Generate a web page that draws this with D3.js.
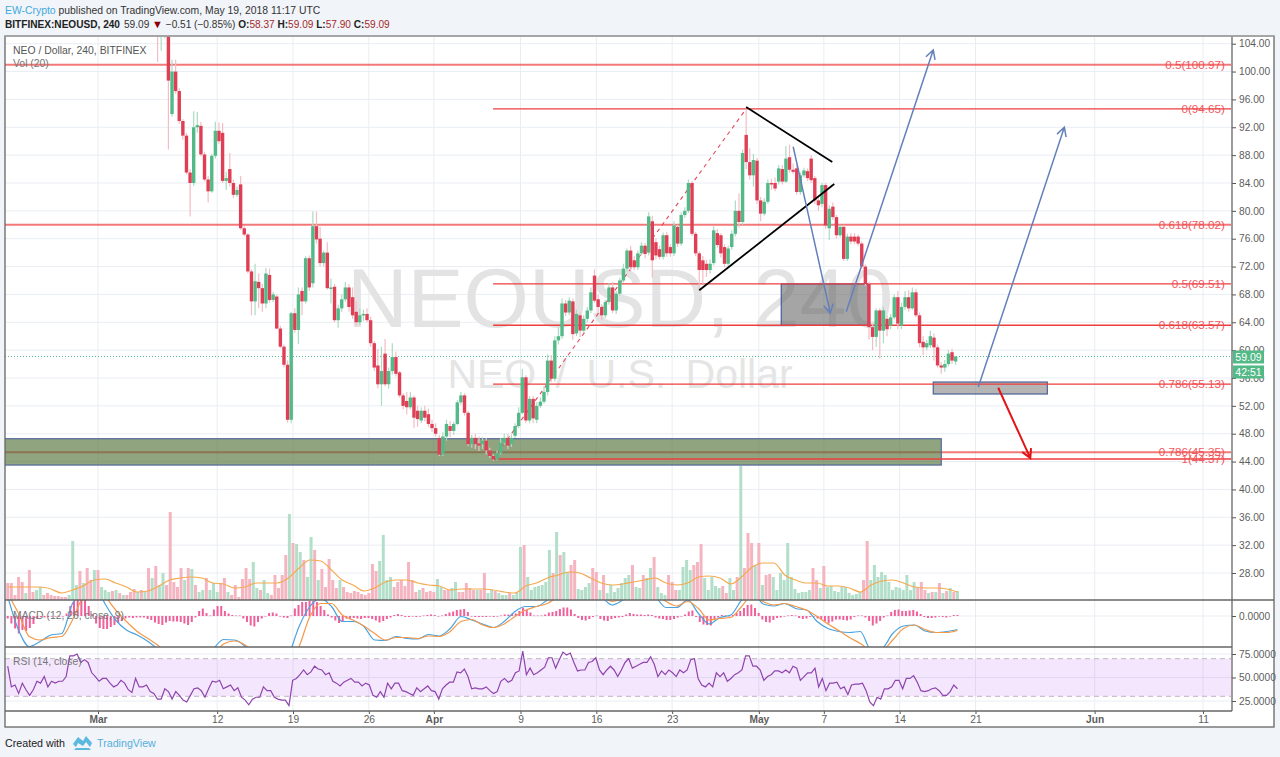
<!DOCTYPE html>
<html lang="en">
<head>
  <meta charset="UTF-8">
  <title>NEOUSD, 240</title>
  <script src="https://d3js.org/d3.v7.min.js"></script>
  <style>
    body { margin: 0; background: #f1f4f9; font-family: "Liberation Sans", Arial, sans-serif; }
    svg { display: block; }
    .axis text { font-size: 10.2px; fill: #5d5d5d; font-family: "Liberation Sans", Arial, sans-serif; }
    .axis line { stroke: #555; }
    .axis path { display: none; }
    .pane-label { font-size: 10.4px; fill: #777; }
    .fib-label { font-size: 11.7px; fill: #f0484e; opacity: 0.9; text-anchor: end; }
  </style>
</head>
<body>
  <svg id="chart" width="1280" height="757"></svg>

  <script>
    // 8h candles, starting 2018-03-06 12:00 (earlier ones are above the visible range)
    const opens = [
      106,105.3,105.6,106.5,93.9,100,97.2,92.9,90.8,85.5,
      84,92,92.2,88.1,84.5,82.8,87.9,91.5,91.2,84.3,
      86,84,82.3,83.8,77.5,76.6,71.3,67,69.8,68.9,
      66.7,70.8,67.2,67.7,63.1,60.5,57.9,50,65.3,62.9,
      68.5,67,73.2,69.6,77.8,76,72.5,74,68.9,69.1,
      64.3,66,67.3,69,67.6,65.5,64,65,65.2,64.3,
      61,57.8,55.1,59.5,55.1,57,59,56.8,53.5,52.7,
      51.8,53.2,51.3,49.9,51.3,50.8,49.4,48.8,47.4,45,
      47.6,49.1,48.4,49.4,52.5,53.5,51,46.5,47.4,46.6,
      46.5,47,45.6,44.8,44.3,45.2,46.7,47.4,46.5,47.7,
      49.1,51,56.1,49.9,53,50,52,52.6,54,58.5,
      55.9,61.4,62,66.7,65.4,67,62.4,65,62.8,64.5,
      65.7,70.7,67.3,66.2,65,66.9,69,65.7,68.1,70,
      71.7,74.3,72.9,71.9,73.9,75,74,78.5,75.5,74.5,
      73.4,76.5,74.8,73.9,77.7,75.3,79.4,80,84,76.7,
      73.9,72.9,72.4,71.5,72.5,76.8,76.5,74.8,72.4,74.8,
      76.7,80,78.4,90.9,87,85.1,87.2,81.5,79.6,81.3,
      84,84,84.2,86,84.2,87.7,85.9,86.1,82.7,85.1,
      85.7,87.5,84.7,81.5,81,83.7,77.5,80.6,79.1,76.5,
      77.7,73.1,76.3,76.3,76.3,75.3,72,69.5,63.3,61.9,
      65.7,62.8,64.5,63.5,64.7,67.6,63.5,66.2,67.6,66,
      68.3,65,61.2,60.4,60.7,61.8,60.4,57.8,57.5,58,59.7,58.37
    ];
    const closes = [
      105.4,106,106.2,98.7,100,97.2,92.9,90.8,85.5,84,
      92,92.3,88.1,84.5,82.8,87.9,91.5,90,84.3,84.7,
      84,82.3,83,77.5,76.6,71.3,67,69.9,68.9,66.7,
      71,67.2,68,63.1,60.5,57.9,50,65.3,62.9,68,
      67,73.2,69,77.8,75.9,72.5,74,68.9,69,64.3,
      66,67.3,69,66.2,65,64,65,65.2,64.3,61,
      57.5,55.1,57,55.1,57,59,56.6,53.5,52,51.8,
      53.2,50.3,50.1,51.3,50.3,49.4,48.8,48,45,47.6,
      49.4,48.4,49.4,52.5,53.5,51,46.5,47.4,46.5,46.3,
      47,45.6,44.8,44.3,45.2,46.7,47.4,46.3,47.4,49.1,
      51,56.1,49.9,53,50.2,52,52.6,54,58.5,55.9,
      61.4,62,66.7,65.4,67.1,62.3,65.2,62.8,64.5,65.7,
      68.3,67.1,66.2,65,66.9,69,65.7,68.1,70,71.7,
      74.3,71.9,71.9,73.9,75,73.8,79.2,72.9,73.6,73.4,
      76.5,73.9,73.9,77.9,75.3,79.4,80,84,76.7,73.9,
      71.5,71.5,71.5,72.4,77.2,75.1,73.9,72.4,74.6,76.7,
      80,78.4,88.3,87,85.1,87.3,81.5,79.6,81.3,84,
      83.8,83.2,86.1,84.2,87.5,85.9,85.6,82.7,85.1,85.8,
      84.7,84.4,81.5,80.8,83.7,77.9,80.3,79.1,76.5,77.7,
      73.1,76.3,75.6,75.6,75.3,72,69.5,63.3,61.9,65.7,
      62.8,65.7,63,64.7,67.6,63.8,66.2,67.6,66,68.3,
      65,61,60.4,61,62,60.4,57.8,57.5,58,59.5,58.5,59.09
    ];
    const highs = [
      107.5,107.5,107,107,101.7,101.7,97.6,93.2,91.2,86,
      94.3,94.2,92.8,88.5,85,88.2,92.8,92.7,92.6,85.6,
      88.3,84.5,83.5,85,77.8,76.8,71.6,72.4,71,69.5,
      71.8,71.7,68.4,68,63.5,60.8,58.5,65.5,66,69,
      69,73.5,73.6,79.9,79.9,77.7,74.3,75.5,70.3,69.5,
      66.5,68,69.8,69.5,69,67,66,65.8,66,64.8,
      61.3,60.2,60.5,61.6,57.5,61,59.8,57,53.8,54,
      54,53.5,52,51.8,52,51.6,50,49.5,47.8,48.2,
      50,49.8,49.7,52.8,54,53.8,51.3,47.8,48,47.6,
      47.5,47.4,46,45,45.6,47.4,48,48,47.9,49.5,
      51.8,57.3,56.4,53.4,53.4,52.5,53.2,54.8,59.4,59.3,
      62,63.3,67.4,67.2,67.6,67.4,65.8,65.4,65,66.2,
      69,71.6,68,66.6,67.2,69.6,69.8,68.5,70.4,72.4,
      74.6,75,73.5,74.3,75.5,75.4,79.8,79.3,76,75,
      76.9,77,75.2,78.5,78,79.8,80.5,84.5,84.3,77,
      74.2,73.5,73,73,77.8,77.4,76.8,75.2,75,77.2,
      81.5,82.5,88.8,94.6,89,88.2,87.6,82,81.8,84.5,
      84.6,84.8,86.6,86.6,89.3,89.5,86.8,86.6,85.5,86.2,
      86.1,88,85,82,84,84,80.8,81.2,79.4,78,
      78,76.7,76.8,76.8,76.6,75.6,72.3,69.8,63.8,66,
      66,66.2,65,65.2,68,68.5,66.8,68.5,68.6,69,
      68.8,65.4,62,61.5,62.8,62.4,60.8,58.3,58.6,60,60.2,59.09
    ];
    const lows = [
      101.4,103,104.8,88.8,93.5,96.8,92.5,90.2,85.2,79.2,
      83.6,91.2,87.8,84.2,81.2,82.6,87.5,89.6,84,83,
      83.5,81.8,82,77.3,76.4,71,65,65,66,65.5,
      66,66.8,66.9,63,60.3,57.5,49.6,49.5,62.5,60.9,
      65,66.7,68.5,69,75.3,72,72,68.7,66.7,64,
      63.2,65.5,67,65.5,64.5,63.5,63.6,64.2,64,60.5,
      57,54.5,52,54.8,54.5,56.5,56.2,53.2,51.5,50.8,
      51.5,48.8,49,49.5,49.8,49,48.2,47.6,44.8,44.8,
      47,47.5,47.8,49.2,52.2,50.6,46.2,46,45.8,45.5,
      45.8,45,44.5,44.1,44.2,45,46.4,45.8,46.1,47.4,
      48.8,50.8,49.5,49.5,49.5,49.5,51.7,52.3,53.5,55.4,
      55.5,60.8,61.6,64.9,65,61.5,62,61.9,62.5,64,
      65.3,66.8,65.4,64.3,64.6,66.5,65.3,65.2,67.8,69.7,
      71.3,71.3,71.5,71.5,73.6,73.2,73.6,70.4,73,73,
      73,73.4,73.4,73.5,74.8,75,79,79.7,76.4,73.5,
      68.5,69.5,70.5,71,72.2,74.7,73.3,71.9,72,74.4,
      76.3,77.6,78,86,84.5,83.5,81,78.5,79.3,81,
      83,82.8,83.8,83.8,84,85.5,85.3,82.3,82.3,84.8,
      84.3,84,81,80,80.5,77.4,75.8,78.7,76,76.2,
      72.8,72.8,75.2,75.2,75,71.7,69.2,61.5,60,60.5,
      58.8,61,62,63,64.4,63,63,65.8,65.5,65.8,
      64.7,60.4,59.3,60,60.3,58.5,57.5,56.6,56.9,57.7,58,57.9
    ];

    // volume, negative = down bar
    const volumes = [
      -17,-17,-5,-23,-18,7,-30,-8,10,13,
      -5,-7,-5,-4,-4,-3,-3,5,59,15,
      -29,17,-32,-20,30,-30,13,10,8,-9,
      10,-7,5,-5,-8,-11,8,-10,8,-32,
      22,-34,15,27,-15,-88,-18,-13,-32,20,
      -32,31,-15,8,10,-22,10,17,8,-17,
      -22,8,-5,-15,-3,-21,-32,-21,38,12,
      -10,20,7,-5,-25,-12,-25,-45,86,-57,
      56,48,-40,23,63,-50,20,-31,-13,-41,
      -20,-12,20,-13,-8,-7,-9,-8,-6,-5,
      -7,-36,-29,39,65,20,23,-13,-18,-20,
      -14,-38,-20,-8,10,-12,-8,-9,-8,21,
      13,-10,-10,12,18,-8,-8,-17,-12,-10,
      10,-10,-27,7,10,-9,7,5,5,-7,5,
      7,53,-55,23,10,13,14,15,18,50,
      -27,68,-45,48,28,-35,-40,11,10,13,
      17,-32,-28,10,-25,7,15,8,12,17,
      22,25,-35,13,12,-25,22,32,-43,13,
      7,5,-25,-18,-10,10,33,40,30,-35,
      -38,-56,22,10,23,14,12,-14,-7,22,
      10,-23,134,-32,-67,-57,35,-57,15,-25,
      -26,23,10,27,20,57,23,11,7,8,
      8,10,-32,-20,12,-34,13,14,9,8,
      13,13,7,5,6,8,-20,-59,20,35,
      23,28,25,18,10,13,12,10,25,10,
      18,-12,-18,-10,7,-8,8,-17,7,-9,
      12,-8,9
    ];
    // daily samples of the Vol (20) average
    const volumeMa = [
      13,13,13,13,11,7,10,14,20,21,17,13,8,9,14,20,22,23,22,17,16,12,13,17,17,17,22,32,40,39,
      30,20,15,9,12,18,20,20,17,15,14,10,11,11,11,10,8,7,14,17,22,25,28,27,22,17,15,16,18,20,
      22,17,15,17,23,24,22,16,23,33,37,37,25,20,17,17,14,14,12,8,15,19,20,17,13,12,12,11,8
    ];

    const macdLine = [
      3.9,-2.8,-6.1,-5.1,-3.8,-3.5,2.5,4.5,6.5,2.5,-0.8,-2.8,-3.8,-5.1,-6.8,-8.8,-10.1,-10.8,-10.1,-6.8,
      -4.7,-4.8,-6.1,-8.8,-10.8,-12.1,-8.1,-2.1,1.9,3.5,1.9,-1.1,-1.1,-2.1,-4.8,-4.9,-4.1,-4.5,-4.6,-3.7,
      -4,-2.5,-0.1,-0.8,-1.6,-2.3,-1.1,0.9,1.9,1.9,3.2,4.5,5.2,4.9,5,3.9,2.2,3.2,4.5,5.2,
      3.9,1.7,1.7,3.2,0.5,-1.6,-0.3,0.2,3.2,4.9,2.4,2,2.5,1.5,1.2,-1.1,-2.5,-3.1,-3.3,-3.1,
      -6.8,-6.5,-3.5,-2,-1.8,-3,-3.3,-3.1,-2.7
    ];
    const signalLine = [
      4.5,0.5,-4.1,-4.8,-4.3,-4.1,-0.8,3.9,5.2,3.9,1.2,-1.1,-3.1,-4.5,-6,-8.1,-9.8,-10.5,-10.1,-8.1,
      -5.6,-5,-5.8,-7.8,-9.8,-10.8,-10.1,-6.1,-0.1,2.5,2.5,0.2,-0.8,-2,-3.5,-4.8,-4.3,-4.3,-4.5,-4,
      -4.1,-3.1,-1.1,-0.7,-1.8,-2.3,-1.6,-0.1,1.2,1.9,2.5,3.9,4.9,5,4.9,4.2,2.9,3.5,4.3,5,
      4.5,2.9,2,2.9,1.5,-0.8,-0.5,-0.3,1.9,4.2,2.9,2.2,2.5,1.9,1.2,-0.1,-1.6,-2.9,-4.3,-5.5,
      -6.8,-6.8,-4.8,-2.5,-1.8,-2.7,-3.3,-3.3,-2.9
    ];
    const macdHist = [
      -0.5,-1.5,-2.5,-3.5,-2.8,-3,-2.4,-1.6,-0.6,-0.2,-0.3,-0.2,-0.1,-0.1,-0.1,0,0.5,2,3,3.2,
      3.2,3.2,2,0.4,-1.5,-2.4,-2.6,-2.6,-2.2,-1.8,-1.4,-1,-0.5,-0.3,-0.4,-0.3,-0.3,-0.3,-0.6,-0.8,
      -1.3,-1.6,-1.8,-1.3,-1,-1.1,-1.1,-1.2,-1.5,-1.8,-1.2,-0.3,1,1.5,0.6,0.1,1.3,2,2,1,
      0.5,0.2,0.1,0.1,-0.5,-1.2,-1.9,-2.1,-1.2,-0.5,0,0.6,0.7,0.5,0,-0.3,-0.4,0.1,1.5,2.2,
      2.8,2.8,3,3,2.8,2,1.2,0.3,-0.3,-0.9,-1.4,-1.2,-0.5,-0.5,-0.4,-0.5,-0.6,-0.4,-0.4,-0.6,
      -0.9,-1.3,-1,-0.6,-0.3,0.2,0.4,0.2,-0.2,-0.2,-0.1,-0.2,-0.1,0.1,0.2,0.3,0.2,-0.1,0.1,0.4,
      0.7,0.9,1.2,1.3,1.4,0.8,-0.1,-0.2,-0.2,-0.2,-0.2,-0.1,-0.2,-0.1,0.1,0.3,0.3,0.4,0.5,1,
      1.6,1.2,0.7,0.1,0.1,0.1,0.3,0.7,0.8,1,1.4,1.7,1.7,1.3,0.4,-0.4,-0.8,-0.9,-0.6,-0.2,
      0.1,-0.6,-0.9,-1,-0.6,-0.4,-0.3,-0.2,0.3,0.6,0.4,0.3,0.3,0.2,0.3,0.2,-0.3,-0.5,-0.6,-0.8,
      -0.8,-0.6,-0.3,-0.1,0.3,0.9,1.1,-0.2,-1.2,-1.7,-1.8,-1.9,-0.6,-0.3,0.2,0.1,-0.1,0.2,0.6,1,
      1.6,2.2,2.3,1.6,0.6,-0.7,-1.2,-1.3,-0.8,-0.4,-0.3,-0.1,0.1,0.2,0.1,-0.4,-0.6,-0.5,-0.2,-0.1,
      -0.5,-0.7,-1.1,-1.5,-1.1,-0.7,-0.7,-0.8,-0.9,-0.7,-0.2,0.1,0.1,-0.3,-1,-1.9,-1.5,-1,-0.3,0.1,
      0.8,1.2,1.3,1,1,1.1,1.2,0.9,0.4,-0.2,-0.4,-0.4,-0.3,0,-0.2,-0.3,-0.1,0.2,0.2
    ];
    const rsiValues = [
      62,40,42,33,44,37,31,37,46,44,51,40,46,44,46,46,51,73,73,75,
      66,69,66,55,51,46,49,49,44,40,42,47,44,37,34,49,40,40,42,35,
      33,27,27,38,35,27,35,31,26,24,31,38,39,36,29,38,46,45,47,38,
      40,42,36,39,29,26,21,27,29,29,40,36,36,29,27,26,26,20,47,49,
      53,58,53,56,62,59,58,53,55,46,44,41,45,47,49,45,45,41,44,42,
      31,29,35,29,44,38,44,44,36,35,33,31,39,35,38,41,36,35,27,38,
      42,45,45,56,55,59,51,38,39,38,
      38,40,36,33,35,46,49,45,47,55,57,78,53,60,53,55,58,61,71,71,
      60,69,77,74,76,66,57,58,58,66,67,71,58,53,58,62,58,51,58,66,
      70,60,62,64,66,66,72,64,51,57,53,58,55,51,58,55,58,69,70,49,
      42,40,44,40,55,51,55,46,49,53,55,58,73,73,62,62,58,47,51,53,
      57,57,55,58,55,62,60,47,51,55,55,60,40,49,36,44,44,45,38,40,
      32,42,43,43,44,36,24,20,29,27,38,38,40,47,47,38,49,49,52,45,
      36,35,36,38,39,36,31,31,35,42,38
    ];

    const priceTicks = d3.range(28, 105, 4);
    const timeTicks = ["2018-03-01","2018-03-12","2018-03-19","2018-03-26","2018-04-01","2018-04-09","2018-04-16",
      "2018-04-23","2018-05-01","2018-05-07","2018-05-14","2018-05-21","2018-06-01","2018-06-11"];
    const timeLabels = ["Mar","12","19","26","Apr","9","16","23","May","7","14","21","Jun","11"];
    const rsiTicks = [25, 50, 75];
    const lastPrice = 59.09;

    // drawing tools, x given in days after Mar 1
    const longFibs = [
      { label: "0.5(100.97)", price: 100.97 },
      { label: "0.618(78.02)", price: 78.02 },
      { label: "0.786(45.35)", price: 45.35 }
    ];
    const shortFibs = [
      { label: "0(94.65)", price: 94.65 },
      { label: "0.5(69.51)", price: 69.51 },
      { label: "0.618(63.57)", price: 63.57 },
      { label: "0.786(55.13)", price: 55.13 },
      { label: "1(44.37)", price: 44.37 }
    ];
    const fibSwing = [[36.47, 44.37], [59.83, 94.65]];
    const trendLines = [
      [[59.83, 94.9], [67.78, 87.0]],
      [[55.5, 68.6], [67.96, 83.85]]
    ];
    const blueArrows = [
      [[64.17, 89.2], [67.6, 65.3]],
      [[69.07, 65.5], [77.1, 103.1]],
      [[81.26, 54.7], [89.2, 92]]
    ];
    const redArrow = [[83.1, 54.6], [86.06, 44.5]];
    const grayBoxes = [
      { from: 63.07, to: 71.1, top: 69.51, bottom: 63.57 },
      { from: 77.1, to: 87.63, top: 55.42, bottom: 53.7 }
    ];
    const supportZone = { from: -10, to: 77.84, top: 47.28, bottom: 43.5 };

    const paneLeft = 5, paneRight = 1232, outerRight = 1274;
    const mainTop = 36, mainBottom = 600, macdBottom = 647, rsiBottom = 711, axisBottom = 727;
    const green = "#53b987", red = "#de3f55";

    const svg = d3.select("#chart");
    const day = n => new Date(Date.UTC(2018, 2, 1) + n * 864e5);
    const x = d3.scaleUtc().domain([day(0), day(102)]).range([98, 1203]);
    const y = d3.scaleLinear().domain([104, 28]).range([43.7, 573]);
    const volY = d3.scaleLinear().domain([0, 134]).range([mainBottom, 466]);
    const macdY = d3.scaleLinear().domain([0, 1]).range([616, 611]);
    const rsiY = d3.scaleLinear().domain([25, 75]).range([701, 654]);

    // evenly spaced indicator samples between the first and last bar
    const seriesStart = new Date("2018-02-20T16:00Z"), seriesEnd = new Date("2018-05-19T08:00Z");
    const spread = n => d3.scaleLinear().domain([0, n - 1]).range([seriesStart, seriesEnd].map(Number));
    const volT = spread(volumes.length), maT = spread(volumeMa.length),
      macdT = spread(macdLine.length), histT = spread(macdHist.length), rsiT = spread(rsiValues.length);
    const candleT = i => new Date(Date.UTC(2018, 2, 6, 12) + i * 8 * 36e5);

    svg.append("rect").attr("x", paneLeft).attr("y", mainTop).attr("width", outerRight - paneLeft)
      .attr("height", axisBottom - mainTop).attr("fill", "#fff");

    const defs = svg.append("defs");
    [["clipMain", mainTop, mainBottom], ["clipMacd", mainBottom, macdBottom], ["clipRsi", macdBottom, rsiBottom]]
      .forEach(([id, top, bottom]) => {
        defs.append("clipPath").attr("id", id).append("rect")
          .attr("x", paneLeft).attr("y", top).attr("width", paneRight - paneLeft).attr("height", bottom - top);
      });

    // header
    const head1 = svg.append("text").attr("x", 5).attr("y", 13.5).attr("font-size", 10.4);
    head1.append("tspan").attr("fill", "#3fa9dc").text("EW-Crypto");
    head1.append("tspan").attr("fill", "#333").text(" published on TradingView.com, May 19, 2018 11:17 UTC");
    const head2 = svg.append("text").attr("x", 5).attr("y", 28).attr("font-size", 10.1).attr("fill", "#222");
    head2.append("tspan").attr("font-weight", "bold").text("BITFINEX:NEOUSD, 240");
    head2.append("tspan").attr("dx", 4).attr("fill", "#333").text("59.09 ");
    head2.append("tspan").attr("fill", "#8b0000").attr("font-size", 11).text("▼");
    head2.append("tspan").attr("fill", "#333").text(" −0.51 (−0.85%) ");
    [["O:", "58.37"], ["H:", "59.09"], ["L:", "57.90"], ["C:", "59.09"]].forEach(([k, v]) => {
      head2.append("tspan").attr("font-weight", "bold").text(k);
      head2.append("tspan").attr("fill", "#a52a2a").text(v + " ");
    });

    // grid
    const grid = svg.append("g").attr("stroke", "#e9edf3").attr("stroke-width", 1);
    grid.selectAll(".gx").data(timeTicks).join("line")
      .attr("x1", d => x(new Date(d))).attr("x2", d => x(new Date(d)))
      .attr("y1", mainTop).attr("y2", rsiBottom);
    grid.selectAll(".gy").data(priceTicks).join("line")
      .attr("x1", paneLeft).attr("x2", paneRight).attr("y1", d => y(d)).attr("y2", d => y(d));
    grid.selectAll(".gr").data(rsiTicks).join("line")
      .attr("x1", paneLeft).attr("x2", paneRight).attr("y1", d => rsiY(d)).attr("y2", d => rsiY(d));
    grid.append("line").attr("x1", paneLeft).attr("x2", paneRight).attr("y1", macdY(0)).attr("y2", macdY(0));

    // watermark
    svg.append("text").attr("x", 620).attr("y", 327).attr("text-anchor", "middle")
      .attr("font-size", 84).attr("fill", "#e3e3e3").text("NEOUSD, 240");
    svg.append("text").attr("x", 620).attr("y", 388).attr("text-anchor", "middle")
      .attr("font-size", 41).attr("word-spacing", 8).attr("fill", "#e5e5e5").text("NEO / U.S. Dollar");

    const main = svg.append("g").attr("clip-path", "url(#clipMain)");

    // volume
    main.append("g").selectAll("rect").data(volumes).join("rect")
      .attr("x", (d, i) => x(volT(i)) - 1.5).attr("width", 3)
      .attr("y", d => volY(Math.abs(d))).attr("height", d => mainBottom - volY(Math.abs(d)))
      .attr("fill", d => d < 0 ? "#f4b5c0" : "#b3dfca");
    main.append("path").datum(volumeMa).attr("fill", "none").attr("stroke", "#f5a94f").attr("stroke-width", 1.2)
      .attr("d", d3.line().x((d, i) => x(maT(i))).y(d => volY(d)).curve(d3.curveMonotoneX));

    // the pale fib set sits under the boxes
    const fibLine = (g, rows, from, width, op) => {
      g.selectAll(null).data(rows).join("line")
        .attr("x1", from).attr("x2", paneRight - 1)
        .attr("y1", d => y(d.price)).attr("y2", d => y(d.price))
        .attr("stroke", "#ee3e3e").attr("stroke-width", width).attr("stroke-opacity", op);
    };
    fibLine(main, longFibs, paneLeft, 2, 0.7);

    const drawBox = (b, fill, stroke) => main.append("rect")
      .attr("x", x(day(b.from))).attr("width", x(day(b.to)) - x(day(b.from)))
      .attr("y", y(b.top)).attr("height", y(b.bottom) - y(b.top))
      .attr("fill", fill).attr("stroke", stroke).attr("stroke-width", 1.2);
    drawBox(supportZone, "rgba(85,115,60,0.65)", "#53699a");
    drawBox(grayBoxes[0], "rgba(100,100,100,0.58)", "#3f5ca0");
    drawBox(grayBoxes[1], "rgba(120,120,120,0.55)", "#4a6296");

    fibLine(main, shortFibs, x(day(fibSwing[0][0])), 1.3, 1);

    // dashed swing line
    main.append("line")
      .attr("x1", x(day(fibSwing[0][0]))).attr("y1", y(fibSwing[0][1]))
      .attr("x2", x(day(fibSwing[1][0]))).attr("y2", y(fibSwing[1][1]))
      .attr("stroke", "#e2485c").attr("stroke-width", 1.1).attr("stroke-dasharray", "4 4");

    // last price
    main.append("line").attr("x1", paneLeft).attr("x2", paneRight).attr("y1", y(lastPrice)).attr("y2", y(lastPrice))
      .attr("stroke", green).attr("stroke-width", 1).attr("stroke-dasharray", "1 2");

    // candles
    const candles = main.append("g").selectAll("g").data(opens).join("g");
    candles.append("line")
      .attr("x1", (d, i) => x(candleT(i))).attr("x2", (d, i) => x(candleT(i)))
      .attr("y1", (d, i) => y(highs[i])).attr("y2", (d, i) => y(lows[i]))
      .attr("stroke", (d, i) => closes[i] >= d ? "#a9dcc4" : "#f5bcc4").attr("stroke-width", 1.2);
    candles.append("rect")
      .attr("x", (d, i) => x(candleT(i)) - 1.7).attr("width", 3.4)
      .attr("y", (d, i) => y(Math.max(d, closes[i])))
      .attr("height", (d, i) => Math.max(1.5, Math.abs(y(d) - y(closes[i]))))
      .attr("fill", (d, i) => closes[i] >= d ? green : red);

    // triangle + arrows
    const pt = p => [x(day(p[0])), y(p[1])];
    trendLines.forEach(l => {
      main.append("line").attr("x1", pt(l[0])[0]).attr("y1", pt(l[0])[1]).attr("x2", pt(l[1])[0]).attr("y2", pt(l[1])[1])
        .attr("stroke", "#000").attr("stroke-width", 1.8);
    });
    const drawArrow = (a, color, width) => {
      const [x0, y0] = pt(a[0]), [x1, y1] = pt(a[1]);
      const ang = Math.atan2(y1 - y0, x1 - x0), len = 10, barb = 0.5;
      const path = d3.path();
      path.moveTo(x0, y0);
      path.lineTo(x1, y1);
      path.moveTo(x1 - len * Math.cos(ang - barb), y1 - len * Math.sin(ang - barb));
      path.lineTo(x1, y1);
      path.lineTo(x1 - len * Math.cos(ang + barb), y1 - len * Math.sin(ang + barb));
      main.append("path").attr("d", path.toString()).attr("fill", "none")
        .attr("stroke", color).attr("stroke-width", width);
    };
    blueArrows.forEach(a => drawArrow(a, "#6480bb", 1.5));
    drawArrow(redArrow, "#e21414", 2);

    // fib labels on top
    svg.selectAll(".fib-label").data(longFibs.concat(shortFibs)).join("text")
      .attr("class", "fib-label").attr("x", paneRight - 7)
      .attr("y", d => y(d.price) + 4).text(d => d.label);

    // MACD
    const macdPane = svg.append("g").attr("clip-path", "url(#clipMacd)");
    macdPane.append("g").selectAll("rect").data(macdHist).join("rect")
      .attr("x", (d, i) => x(histT(i)) - 1).attr("width", 2)
      .attr("y", d => Math.min(macdY(d), macdY(0)))
      .attr("height", d => Math.max(0.6, Math.abs(macdY(d) - macdY(0))))
      .attr("fill", "#f0609a");
    const macdPath = d3.line().x((d, i) => x(macdT(i))).y(d => macdY(d)).curve(d3.curveMonotoneX);
    macdPane.append("path").datum(macdLine).attr("fill", "none").attr("stroke", "#4aa3df").attr("stroke-width", 1.2).attr("d", macdPath);
    macdPane.append("path").datum(signalLine).attr("fill", "none").attr("stroke", "#f4994a").attr("stroke-width", 1.2).attr("d", macdPath);

    // RSI
    const rsiPane = svg.append("g").attr("clip-path", "url(#clipRsi)");
    rsiPane.append("rect").attr("x", paneLeft).attr("width", paneRight - paneLeft - 1)
      .attr("y", rsiY(70)).attr("height", rsiY(30) - rsiY(70)).attr("fill", "#9a28f0").attr("fill-opacity", 0.11);
    [70, 30].forEach(v => rsiPane.append("line").attr("x1", paneLeft).attr("x2", paneRight - 1)
      .attr("y1", rsiY(v)).attr("y2", rsiY(v)).attr("stroke", "#bdb6c4").attr("stroke-dasharray", "5 4"));
    rsiPane.append("path").datum(rsiValues).attr("fill", "none").attr("stroke", "#8e44ad").attr("stroke-width", 1.2)
      .attr("d", d3.line().x((d, i) => x(rsiT(i))).y(d => rsiY(d)));

    // pane labels
    const paneLabel = (t, ty) => svg.append("text").attr("class", "pane-label").attr("x", 13).attr("y", ty).text(t);
    paneLabel("NEO / Dollar, 240, BITFINEX", 54).style("fill", "#555");
    paneLabel("Vol (20)", 67);
    paneLabel("MACD (12, 26, close, 9)", 619);
    paneLabel("RSI (14, close)", 665);

    // axes
    svg.append("g").attr("class", "axis").attr("transform", `translate(${paneRight},0)`)
      .call(d3.axisRight(y).tickValues(priceTicks).tickSize(4).tickFormat(d3.format(".2f")));
    svg.append("g").attr("class", "axis").attr("transform", `translate(${paneRight},0)`)
      .call(d3.axisRight(macdY).tickValues([0]).tickSize(4).tickFormat(d3.format(".4f")));
    svg.append("g").attr("class", "axis").attr("transform", `translate(${paneRight},0)`)
      .call(d3.axisRight(rsiY).tickValues(rsiTicks).tickSize(4).tickFormat(d3.format(".4f")));
    const timeAxis = svg.append("g").attr("class", "axis").attr("transform", `translate(0,${rsiBottom})`)
      .call(d3.axisBottom(x).tickValues(timeTicks.map(d => new Date(d))).tickSize(3)
        .tickFormat((d, i) => timeLabels[i]));
    timeAxis.selectAll("text").attr("dy", "0.55em")
      .attr("font-weight", (d, i) => isNaN(+timeLabels[i]) ? "bold" : "normal");

    // last price tags
    [["59.09", lastPrice, 0], ["42:51", lastPrice, 15]].forEach(([t, p, off]) => {
      svg.append("rect").attr("x", paneRight + 1).attr("y", y(p) - 6 + off).attr("width", 31).attr("height", 13)
        .attr("fill", green);
      svg.append("text").attr("x", paneRight + 16.5).attr("y", y(p) + 4.5 + off).attr("text-anchor", "middle")
        .attr("font-size", 10.5).attr("fill", "#fff").text(t);
    });

    // frame
    const frame = svg.append("g").attr("fill", "none").attr("stroke", "#666").attr("stroke-width", 1.3);
    frame.append("rect").attr("x", paneLeft).attr("y", mainTop).attr("width", outerRight - paneLeft).attr("height", axisBottom - mainTop);
    frame.append("line").attr("x1", paneRight).attr("x2", paneRight).attr("y1", mainTop).attr("y2", rsiBottom);
    [mainBottom, macdBottom, rsiBottom].forEach(v => {
      frame.append("line").attr("x1", paneLeft).attr("x2", paneRight).attr("y1", v).attr("y2", v);
    });
    frame.append("line").attr("x1", paneRight).attr("x2", outerRight).attr("y1", mainBottom).attr("y2", mainBottom);
    frame.append("line").attr("x1", paneLeft).attr("x2", outerRight).attr("y1", mainTop).attr("y2", mainTop).attr("stroke", "#aaa");

    // footer
    svg.append("text").attr("x", 5).attr("y", 747).attr("font-size", 10.7).attr("fill", "#222").text("Created with");
    svg.append("path").attr("transform", "translate(73,735)")
      .attr("d", "M0 9 L5 2 L10 6 L13 1 L19 8 L17 12 L13 7 L10 11 L5 8 L3 12 Z M3 13 L16 13 L18 15 L1 15 Z")
      .attr("fill", "#5bb8de");
    svg.append("text").attr("x", 97).attr("y", 747).attr("font-size", 10.7).attr("fill", "#55aedb").text("TradingView");
  </script>
</body>
</html>
